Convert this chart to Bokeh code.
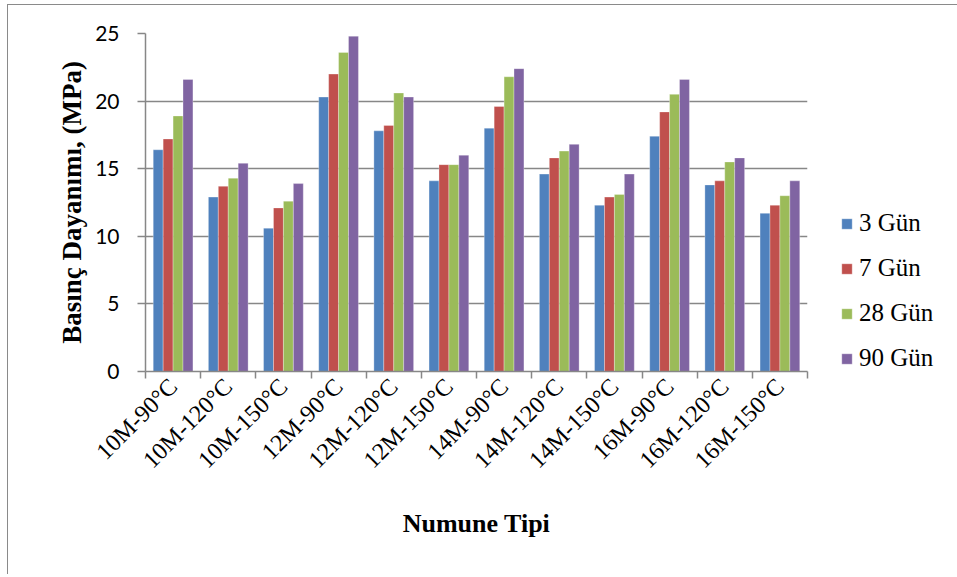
import math
from bokeh.plotting import figure
from bokeh.models import (ColumnDataSource, FixedTicker, Legend, LegendItem, Range1d)
from bokeh.embed import file_html
from bokeh.resources import INLINE

categories = ["10M-90°C", "10M-120°C", "10M-150°C", "12M-90°C", "12M-120°C", "12M-150°C",
              "14M-90°C", "14M-120°C", "14M-150°C", "16M-90°C", "16M-120°C", "16M-150°C"]
series_names = ["3 Gün", "7 Gün", "28 Gün", "90 Gün"]
gun3 = [16.4, 12.9, 10.6, 20.3, 17.8, 14.1, 18.0, 14.6, 12.3, 17.4, 13.8, 11.7]
gun7 = [17.2, 13.7, 12.1, 22.0, 18.2, 15.3, 19.6, 15.8, 12.9, 19.2, 14.1, 12.3]
gun28 = [18.9, 14.3, 12.6, 23.6, 20.6, 15.3, 21.8, 16.3, 13.1, 20.5, 15.5, 13.0]
gun90 = [21.6, 15.4, 13.9, 24.8, 20.3, 16.0, 22.4, 16.8, 14.6, 21.6, 15.8, 14.1]
y_ticks = [0, 5, 10, 15, 20, 25]
colors = ["#4F81BD", "#C0504D", "#9BBB59", "#8064A2"]

series = [gun3, gun7, gun28, gun90]
n = len(categories)
bar_w = 0.18
offsets = [-1.5 * bar_w, -0.5 * bar_w, 0.5 * bar_w, 1.5 * bar_w]

p = figure(frame_width=662, frame_height=338, output_backend="svg", toolbar_location=None,
           x_range=Range1d(0, n), y_range=Range1d(0, 25),
           min_border_left=145, min_border_top=33, min_border_right=142, min_border_bottom=203)
p.outline_line_color = None
p.background_fill_color = "white"
p.border_fill_color = "white"
p.border_fill_alpha = 0

renderers = []
for vals, off, col in zip(series, offsets, colors):
    src = ColumnDataSource(dict(x=[i + 0.5 + off for i in range(n)], top=vals))
    r = p.vbar(x="x", top="top", width=bar_w, bottom=0, source=src,
               fill_color=col, line_color="white", line_alpha=0.5, line_width=0.6)
    renderers.append(r)

# x axis
xt = FixedTicker(ticks=[i + 0.5 for i in range(n)], minor_ticks=list(range(n + 1)))
p.xaxis.ticker = xt
p.xaxis.major_label_overrides = {i + 0.5: c for i, c in enumerate(categories)}
p.xaxis.major_tick_out = 0
p.xaxis.major_tick_in = 0
p.xaxis.minor_tick_out = 7
p.xaxis.minor_tick_in = 0
p.xaxis.minor_tick_line_color = "#878787"
p.xaxis.minor_tick_line_width = 1.5
p.xaxis.axis_line_color = "#878787"
p.xaxis.axis_line_width = 1.5
p.xaxis.major_label_orientation = math.pi / 4
p.xaxis.major_label_text_font = "Liberation Serif"
p.xaxis.major_label_text_font_size = "24px"
p.xaxis.major_label_text_color = "black"
p.xaxis.major_label_standoff = 4
p.xaxis.axis_label = "Numune Tipi"
p.xaxis.axis_label_text_font = "Liberation Serif"
p.xaxis.axis_label_text_font_style = "bold"
p.xaxis.axis_label_text_font_size = "26px"
p.xaxis.axis_label_text_color = "black"
p.xaxis.axis_label_standoff = 24
p.xgrid.visible = False

# y axis
p.yaxis.ticker = FixedTicker(ticks=y_ticks)
p.yaxis.major_tick_out = 8
p.yaxis.major_tick_in = 0
p.yaxis.minor_tick_out = 0
p.yaxis.minor_tick_in = 0
p.yaxis.major_tick_line_color = "#878787"
p.yaxis.major_tick_line_width = 1.5
p.yaxis.axis_line_color = "#878787"
p.yaxis.axis_line_width = 1.5
p.yaxis.major_label_text_font = "Lato"
p.yaxis.major_label_text_font_size = "21px"
p.yaxis.major_label_text_color = "black"
p.yaxis.major_label_standoff = 18
p.yaxis.axis_label = "Basınç Dayanımı, (MPa)"
p.yaxis.axis_label_text_font = "Liberation Serif"
p.yaxis.axis_label_text_font_style = "bold"
p.yaxis.axis_label_text_font_size = "27px"
p.yaxis.axis_label_text_color = "black"
p.yaxis.axis_label_standoff = 5
p.ygrid.grid_line_color = "#878787"
p.ygrid.grid_line_width = 1.5

legend = Legend(items=[LegendItem(label=nm, renderers=[r]) for nm, r in zip(series_names, renderers)],
                location=(33, -1), margin=0, padding=0, border_line_color=None,
                background_fill_alpha=0,
                glyph_width=13, glyph_height=13, label_standoff=6,
                label_height=24, spacing=17)
legend.label_text_font = "Liberation Serif"
legend.label_text_font_size = "25px"
legend.label_text_color = "black"
p.add_layout(legend, "right")

# chart-area border (left and top edges visible in the reference)
p.styles = {"box-shadow": "inset 7px 4px 0 0 white, inset 8px 5px 0 0 #8a8a8a"}

open("out.html", "w").write(file_html(p, INLINE))
